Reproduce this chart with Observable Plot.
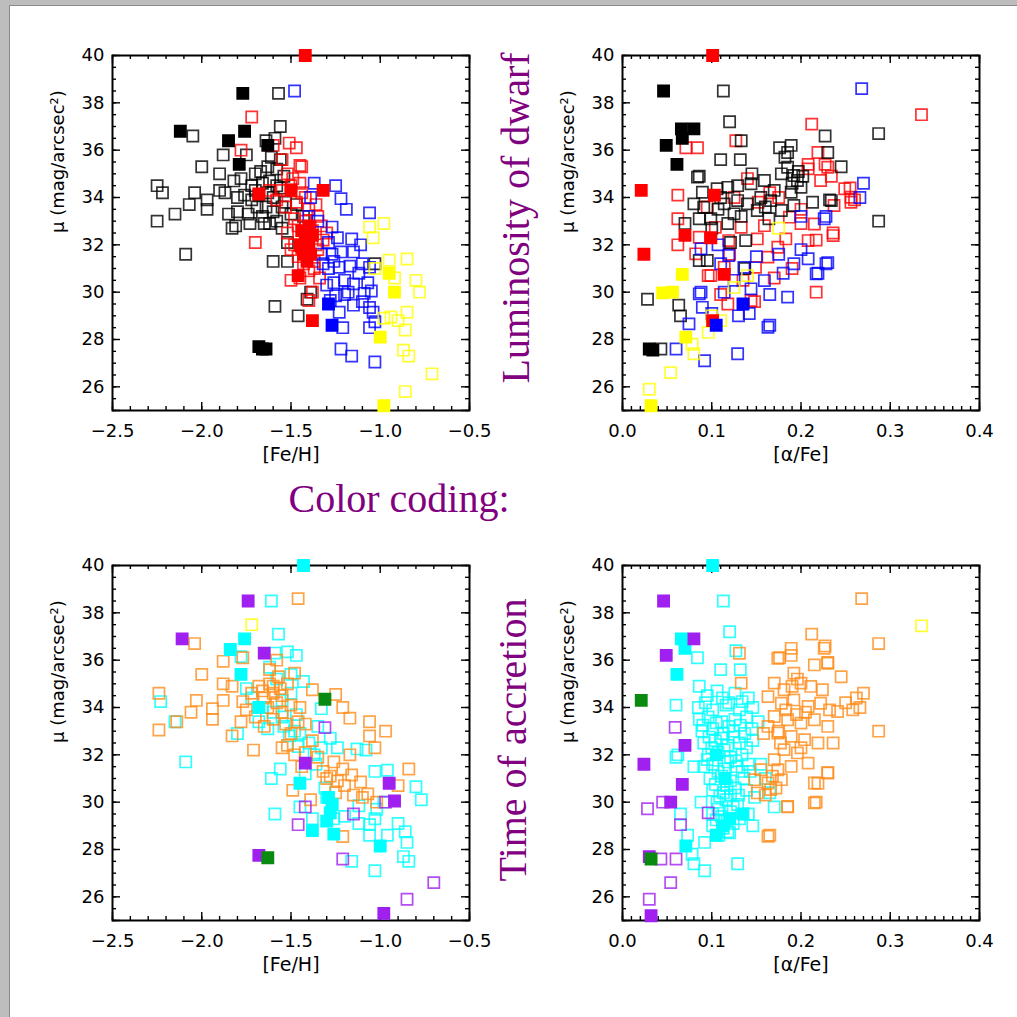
<!DOCTYPE html>
<html><head><meta charset="utf-8">
<script src="https://cdn.jsdelivr.net/npm/d3@7"></script>
<script src="https://cdn.jsdelivr.net/npm/@observablehq/plot@0.6"></script>
<style>
html,body{margin:0;padding:0;background:#fff;}
#page{position:relative;width:1017px;height:1017px;overflow:hidden;background:#fff;}
.panel{position:absolute;}
#overlay{position:absolute;left:0;top:0;}
</style></head><body><div id="page"></div>
<script>
// ---------- Top-left: [Fe/H] vs mu, coloured by luminosity ----------
const tlBlackOpen = [[-2.25,34.5],[-2.25,33.0],[-2.22,34.2],[-2.15,33.3],[-2.07,33.7],[-2.04,34.2],[-2.05,36.6],[-2.0,35.3],[-2.09,31.6],[-1.97,33.5],[-1.97,33.9],[-1.9,35.0],[-1.9,34.3],[-1.88,35.8],[-1.87,34.2],[-1.83,32.7],[-1.81,32.8],[-1.8,33.4],[-1.8,34.0],[-1.78,34.8],[-1.76,34.1],[-1.75,35.8],[-1.74,33.3],[-1.73,32.9],[-1.72,34.5],[-1.7,35.0],[-1.69,33.6],[-1.68,34.1],[-1.66,34.6],[-1.66,33.2],[-1.65,32.9],[-1.64,33.6],[-1.63,35.3],[-1.62,34.7],[-1.61,35.7],[-1.6,34.0],[-1.6,33.4],[-1.59,36.5],[-1.58,35.2],[-1.57,38.4],[-1.56,37.0],[-1.56,35.6],[-1.56,34.4],[-1.55,33.6],[-1.55,32.7],[-1.53,33.8],[-1.52,32.1],[-1.52,31.3],[-1.6,31.3],[-1.5,33.3],[-1.62,32.9],[-1.41,29.7],[-1.39,30.0],[-1.59,29.4],[-1.46,29.0],[-1.72,33.9],[-1.85,33.3],[-1.82,34.7],[-1.67,35.1],[-1.64,36.4],[-1.58,33.0],[-1.54,34.9],[-1.7,34.3],[-1.63,34.2],[-1.58,34.5],[-1.03,31.2],[-1.43,33.2],[-1.47,33.7]];
const tlBlackFilled = [[-2.12,36.8],[-1.85,36.4],[-1.76,36.8],[-1.77,38.4],[-1.79,35.4],[-1.63,36.2],[-1.68,27.7],[-1.66,27.6],[-1.64,27.6]];
const tlRedOpen = [[-1.72,37.4],[-1.78,36.0],[-1.51,36.3],[-1.47,36.1],[-1.45,35.35],[-1.55,35.6],[-1.49,34.8],[-1.45,34.6],[-1.42,34.0],[-1.47,33.8],[-1.4,33.5],[-1.36,33.7],[-1.35,33.2],[-1.33,32.8],[-1.32,32.2],[-1.35,31.8],[-1.37,31.3],[-1.4,30.9],[-1.45,30.6],[-1.5,31.8],[-1.52,32.5],[-1.48,33.1],[-1.55,34.3],[-1.58,33.9],[-1.62,34.3],[-1.52,35.0],[-1.44,35.3],[-1.3,32.5],[-1.34,30.6],[-1.38,30.0],[-1.4,29.65],[-1.5,30.5],[-1.7,32.1],[-1.42,33.0],[-1.37,31.0],[-1.43,31.2],[-1.46,32.8],[-1.48,32.0],[-1.5,34.5],[-1.44,34.2],[-1.38,32.6],[-1.36,32.0],[-1.46,31.5],[-1.53,33.6],[-1.6,36.2]];
const tlRedFilled = [[-1.42,40.0],[-1.32,34.3],[-1.46,30.7],[-1.38,28.8],[-1.68,34.15],[-1.5,34.3],[-1.44,32.6],[-1.42,32.2],[-1.4,31.9],[-1.43,31.6],[-1.38,32.4],[-1.41,31.3],[-1.45,32.0],[-1.39,31.6],[-1.4,32.8],[-1.44,31.9]];
const tlBlueOpen = [[-1.48,38.5],[-1.37,34.6],[-1.25,34.5],[-1.22,33.95],[-1.19,33.5],[-1.06,33.35],[-1.39,34.0],[-1.4,33.2],[-1.27,32.75],[-1.11,32.0],[-1.16,32.25],[-1.29,32.1],[-1.22,31.7],[-1.26,31.3],[-1.29,31.0],[-1.23,31.05],[-1.17,31.1],[-1.1,31.2],[-1.06,31.05],[-1.26,30.4],[-1.2,30.5],[-1.15,30.35],[-1.07,30.4],[-1.05,30.05],[-1.09,29.95],[-1.15,29.45],[-1.06,29.35],[-1.04,29.15],[-1.23,29.15],[-1.28,29.65],[-1.25,29.85],[-1.03,28.75],[-1.06,28.5],[-1.21,28.5],[-1.22,27.6],[-1.16,27.3],[-1.03,27.05],[-1.32,31.2],[-1.3,30.3],[-1.2,29.9],[-1.12,30.8],[-1.15,31.7],[-1.24,32.3],[-1.33,31.6],[-1.18,30.0],[-1.1,29.6],[-1.27,31.6],[-1.35,33.0]];
const tlBlueFilled = [[-1.27,28.6],[-1.29,29.5]];
const tlYellowOpen = [[-1.06,32.75],[-0.98,32.9],[-1.04,32.3],[-0.95,31.35],[-0.85,31.4],[-0.8,30.5],[-0.78,30.0],[-0.85,29.15],[-0.9,28.8],[-0.94,28.95],[-0.86,28.4],[-0.87,27.55],[-0.84,27.3],[-0.71,26.55],[-0.86,25.8],[-0.98,28.9],[-1.03,31.0],[-0.92,30.6]];
const tlYellowFilled = [[-0.95,30.8],[-0.92,30.0],[-1.0,28.1],[-0.98,25.2]];

// ---------- Top-right: [alpha/Fe] vs mu, coloured by luminosity ----------
const trBlackOpen = [[0.113,38.5],[0.12,37.2],[0.133,36.4],[0.11,35.6],[0.132,35.6],[0.086,34.9],[0.028,29.7],[0.063,29.45],[0.065,29.0],[0.043,27.6],[0.287,36.7],[0.287,33.0],[0.227,36.6],[0.23,35.9],[0.245,35.3],[0.232,33.9],[0.189,36.2],[0.176,36.1],[0.185,35.9],[0.182,35.7],[0.084,34.86],[0.0895,34.22],[0.106,34.37],[0.118,34.43],[0.129,34.5],[0.144,34.58],[0.159,34.72],[0.178,35.0],[0.185,35.28],[0.192,34.93],[0.196,34.72],[0.2,34.43],[0.189,34.22],[0.213,33.8],[0.234,33.87],[0.08,33.73],[0.091,33.59],[0.086,33.1],[0.099,33.1],[0.114,33.73],[0.129,33.87],[0.125,33.31],[0.14,33.73],[0.151,33.45],[0.166,33.87],[0.164,33.1],[0.178,33.45],[0.192,33.66],[0.138,32.18],[0.095,31.34],[0.086,31.34],[0.121,32.1],[0.107,33.5],[0.118,32.9],[0.133,33.2],[0.155,34.0],[0.17,34.3],[0.145,35.0],[0.1,32.7],[0.19,34.6],[0.202,34.9],[0.16,33.6],[0.07,32.9],[0.11,34.0],[0.197,35.1],[0.137,31.0]];
const trBlackFilled = [[0.046,38.5],[0.066,36.9],[0.08,36.9],[0.049,36.2],[0.067,36.5],[0.061,35.4],[0.03,27.6],[0.034,27.55]];
const trRedOpen = [[0.335,37.5],[0.212,37.1],[0.127,36.4],[0.071,36.1],[0.084,36.1],[0.217,30.0],[0.236,32.5],[0.255,34.4],[0.256,33.8],[0.219,35.9],[0.208,35.4],[0.227,35.4],[0.234,34.9],[0.062,34.1],[0.062,33.1],[0.062,32.0],[0.096,30.7],[0.148,29.6],[0.217,32.2],[0.086,32.32],[0.104,32.74],[0.119,32.18],[0.133,32.74],[0.151,32.25],[0.159,32.81],[0.183,32.25],[0.208,32.18],[0.215,32.88],[0.236,32.39],[0.23,35.28],[0.249,34.37],[0.256,34.01],[0.237,33.66],[0.208,35.21],[0.222,34.72],[0.187,33.17],[0.174,31.9],[0.082,31.62],[0.099,30.7],[0.114,31.05],[0.149,31.05],[0.163,31.48],[0.144,29.65],[0.118,29.5],[0.14,34.8],[0.165,34.2],[0.095,33.6],[0.125,34.0],[0.152,33.8],[0.175,34.0],[0.2,33.5],[0.12,31.6],[0.135,30.5],[0.19,31.0],[0.17,30.6],[0.11,29.9],[0.26,33.9],[0.2,32.9]];
const trRedFilled = [[0.101,40.0],[0.021,34.3],[0.024,31.6],[0.07,32.4],[0.103,34.1],[0.099,32.3],[0.114,30.75],[0.101,28.8]];
const trBlueOpen = [[0.268,38.6],[0.27,34.6],[0.266,34.0],[0.228,33.2],[0.23,31.25],[0.219,30.8],[0.092,27.1],[0.129,27.4],[0.165,28.6],[0.06,27.6],[0.088,30.0],[0.086,29.93],[0.0895,29.36],[0.0745,28.66],[0.163,28.52],[0.185,29.79],[0.228,31.2],[0.217,30.78],[0.208,31.41],[0.192,31.2],[0.226,33.1],[0.11,31.2],[0.088,31.83],[0.119,31.55],[0.136,31.05],[0.159,30.49],[0.144,30.14],[0.114,30.0],[0.13,29.0],[0.142,29.1],[0.165,29.9],[0.175,31.6],[0.2,33.2],[0.125,30.5],[0.1,29.1],[0.15,31.5],[0.18,30.8],[0.107,32.0],[0.2,31.8]];
const trBlueFilled = [[0.135,29.5],[0.105,28.6]];
const trYellowOpen = [[0.08,27.4],[0.078,27.8],[0.054,26.6],[0.03,25.9],[0.096,28.3],[0.11,28.8],[0.14,30.7],[0.175,32.7],[0.125,30.2],[0.1,29.0]];
const trYellowFilled = [[0.067,30.75],[0.045,29.97],[0.056,30.0],[0.071,28.1],[0.032,25.2]];

// ---------- Bottom-left: [Fe/H] vs mu, coloured by time of accretion ----------
const blOrangeOpen = [[-2.24,34.6],[-2.24,33.05],[-2.14,33.4],[-2.06,33.8],[-2.04,36.7],[-2.0,35.4],[-2.03,34.3],[-1.94,33.95],[-1.94,33.5],[-1.88,35.0],[-1.88,35.95],[-1.88,34.3],[-1.83,32.8],[-1.83,34.9],[-1.77,36.1],[-1.77,34.25],[-1.71,32.2],[-1.46,38.6],[-1.48,35.45],[-1.38,34.75],[-1.25,34.55],[-1.21,34.0],[-1.17,33.55],[-1.06,33.4],[-1.06,32.8],[-0.97,33.0],[-1.03,32.3],[-0.84,31.4],[-0.9,30.7],[-1.21,28.55],[-1.49,30.5],[-1.39,30.1],[-1.26,31.7],[-1.21,31.4],[-1.16,31.15],[-1.11,30.85],[-1.07,30.35],[-1.15,30.3],[-1.28,31.1],[-1.17,32.0],[-1.72,34.6],[-1.68,34.9],[-1.65,34.4],[-1.62,35.0],[-1.6,34.6],[-1.58,34.2],[-1.56,34.8],[-1.55,33.8],[-1.53,33.3],[-1.5,32.9],[-1.52,32.4],[-1.48,32.0],[-1.6,33.5],[-1.65,33.2],[-1.7,33.6],[-1.75,33.9],[-1.62,35.6],[-1.57,35.3],[-1.52,35.0],[-1.45,34.0],[-1.42,33.3],[-1.38,32.6],[-1.35,31.9],[-1.32,31.3],[-1.3,31.0],[-1.24,30.9],[-1.2,30.7],[-1.1,30.2],[-1.02,30.0],[-1.78,33.4],[-1.58,36.0],[-1.63,34.0],[-1.46,33.4],[-1.42,32.1],[-1.25,30.4],[-1.55,32.3],[-1.44,31.5],[-1.6,34.9],[-1.55,34.5],[-1.66,34.7],[-1.5,34.1]];
const blCyanOpen = [[-2.23,34.25],[-2.15,33.4],[-2.09,31.7],[-1.61,38.5],[-1.57,37.1],[-1.47,36.2],[-1.52,36.35],[-1.78,36.15],[-1.8,32.9],[-1.61,31.0],[-1.56,31.4],[-1.59,29.5],[-1.12,29.85],[-1.06,29.05],[-1.03,29.3],[-1.06,28.6],[-0.96,28.6],[-0.9,29.1],[-0.86,28.75],[-0.85,28.3],[-0.87,27.7],[-0.84,27.5],[-1.16,27.5],[-1.03,27.1],[-0.77,30.1],[-0.8,30.65],[-0.96,31.35],[-1.03,31.3],[-1.08,32.2],[-1.13,32.25],[-1.28,32.7],[-1.33,32.3],[-1.37,32.0],[-1.24,32.3],[-1.33,33.95],[-1.43,35.1],[-1.51,32.8],[-1.46,32.35],[-1.31,30.6],[-1.26,29.3],[-1.66,34.0],[-1.6,33.8],[-1.55,34.3],[-1.5,34.6],[-1.47,33.7],[-1.54,33.2],[-1.58,35.2],[-1.62,35.7],[-1.5,35.4],[-1.45,32.9],[-1.4,32.5],[-1.36,31.6],[-1.42,31.2],[-1.3,30.2],[-1.27,29.9],[-1.68,33.4],[-1.72,34.4],[-1.59,36.3],[-1.55,33.6],[-1.48,33.0],[-1.35,33.2],[-1.2,29.4],[-1.02,29.7],[-1.12,29.1],[-0.98,30.0],[-1.45,29.8],[-1.38,29.3],[-1.63,33.1],[-1.75,34.8]];
const blCyanFilled = [[-1.43,40.0],[-1.84,36.45],[-1.76,36.9],[-1.78,35.4],[-1.68,34.0],[-1.45,30.8],[-1.38,28.8],[-1.26,28.65],[-1.28,29.55],[-1.27,29.9],[-1.0,28.15],[-1.29,30.2],[-1.3,29.2]];
const blPurpleOpen = [[-1.42,29.8],[-1.46,29.05],[-1.21,27.6],[-0.7,26.6],[-0.85,25.9],[-1.15,29.5],[-1.31,33.15],[-0.97,30.0]];
const blPurpleFilled = [[-1.74,38.5],[-2.11,36.9],[-1.65,36.3],[-1.68,27.75],[-0.95,30.8],[-0.92,30.05],[-0.98,25.3],[-1.42,31.65]];
const blGreenFilled = [[-1.31,34.35],[-1.63,27.65]];
const blYellowOpen = [[-1.72,37.5]];

// ---------- Bottom-right: [alpha/Fe] vs mu, coloured by time of accretion ----------
const brCyanOpen = [[0.113,38.5],[0.12,37.2],[0.127,36.4],[0.11,35.6],[0.132,35.6],[0.084,36.1],[0.086,34.9],[0.06,34.1],[0.062,32.0],[0.073,28.6],[0.08,27.4],[0.078,27.8],[0.092,27.1],[0.129,27.4],[0.088,30.0],[0.092,28.3],[0.08,31.5],[0.065,29.5],[0.06,31.9],
 [0.095,34.5],[0.112,34.4],[0.126,34.6],[0.141,34.4],[0.085,34.0],[0.101,33.9],[0.116,34.1],[0.131,33.9],[0.146,34.0],[0.086,33.5],[0.096,33.6],[0.111,33.4],[0.126,33.5],[0.139,33.6],[0.152,33.4],[0.089,33.0],[0.101,33.1],[0.113,32.9],[0.124,33.0],[0.137,32.9],[0.091,32.5],[0.104,32.6],[0.118,32.4],[0.131,32.5],[0.146,32.6],[0.096,32.0],[0.107,32.1],[0.121,31.9],[0.134,32.0],[0.091,31.5],[0.101,31.6],[0.114,31.4],[0.128,31.5],[0.141,31.6],[0.098,31.0],[0.111,31.1],[0.121,30.9],[0.136,31.0],[0.101,30.5],[0.113,30.4],[0.126,30.6],[0.139,30.5],[0.106,30.0],[0.116,30.1],[0.129,29.9],[0.101,29.5],[0.111,29.4],[0.121,29.6],[0.141,29.5],[0.101,29.0],[0.113,28.9],[0.124,29.1],[0.146,29.0],[0.108,28.6],[0.12,28.7],[0.16,31.0],[0.165,30.4],[0.17,29.8],[0.155,31.6],[0.148,30.2],
 [0.093,34.2],[0.106,34.7],[0.119,34.2],[0.134,34.25],[0.09,33.25],[0.105,33.35],[0.119,33.2],[0.132,33.25],[0.145,33.1],[0.097,32.75],[0.111,32.7],[0.125,32.75],[0.139,32.3],[0.1,32.3],[0.114,32.2],[0.127,31.75],[0.095,31.8],[0.107,31.3],[0.118,31.7],[0.134,31.3],[0.104,30.75],[0.117,30.7],[0.13,30.3],[0.109,30.25],[0.121,30.3],[0.107,29.7],[0.124,29.8],[0.115,29.2],[0.131,29.3],[0.118,28.75],[0.105,29.25],[0.143,31.3]];
const brCyanFilled = [[0.101,40.0],[0.066,36.9],[0.07,36.5],[0.061,35.4],[0.071,28.15],[0.135,29.5],[0.105,28.6],[0.112,29.0],[0.12,29.3],[0.115,31.0],[0.105,32.0]];
const brOrangeOpen = [[0.268,38.6],[0.287,36.7],[0.287,33.0],[0.212,37.1],[0.227,36.6],[0.189,36.2],[0.176,36.1],[0.23,35.9],[0.245,35.3],[0.27,34.6],[0.266,34.0],[0.232,33.9],[0.236,32.5],[0.23,31.25],[0.219,30.8],[0.217,30.0],[0.165,28.6],[0.185,29.8],[0.189,36.5],[0.226,36.5],[0.174,36.08],[0.215,35.8],[0.23,35.87],[0.192,35.45],[0.17,35.03],[0.181,34.75],[0.2,35.03],[0.211,34.89],[0.224,34.75],[0.163,34.46],[0.178,34.18],[0.192,34.32],[0.208,34.04],[0.222,34.18],[0.241,33.83],[0.17,33.62],[0.185,33.48],[0.2,33.34],[0.215,33.48],[0.23,33.2],[0.163,33.2],[0.174,32.92],[0.189,32.78],[0.204,32.64],[0.219,32.5],[0.181,32.22],[0.196,32.08],[0.17,31.79],[0.155,31.37],[0.174,31.37],[0.189,31.51],[0.208,31.65],[0.23,31.23],[0.148,30.95],[0.163,30.81],[0.178,30.95],[0.215,30.81],[0.151,30.39],[0.166,30.53],[0.215,29.97],[0.185,29.82],[0.163,28.56],[0.133,35.03],[0.131,36.29],[0.25,34.2],[0.258,33.9],[0.262,34.4],[0.196,35.2],[0.205,33.8],[0.175,33.0],[0.2,32.3],[0.158,32.9],[0.183,33.9],[0.195,33.7],[0.177,32.5],[0.19,34.9],[0.168,31.1],[0.16,30.3],[0.172,30.6]];
const brPurpleOpen = [[0.028,29.72],[0.045,30.0],[0.065,29.05],[0.043,27.6],[0.06,27.6],[0.054,26.6],[0.03,25.9],[0.059,33.16],[0.096,29.55]];
const brPurpleFilled = [[0.046,38.5],[0.08,36.9],[0.049,36.2],[0.024,31.6],[0.07,32.4],[0.067,30.75],[0.054,30.0],[0.032,25.2],[0.03,27.7]];
const brGreenFilled = [[0.021,34.3],[0.032,27.6]];
const brYellowOpen = [[0.335,37.45]];

// ---------- axes ----------
const fehTicks = [-2.5, -2.0, -1.5, -1.0, -0.5];
const afeTicks = [0.0, 0.1, 0.2, 0.3, 0.4];
const muTicks = [26, 28, 30, 32, 34, 36, 38, 40];
const fehLabel = "[Fe/H]";
const afeLabel = "[\u03b1/Fe]";
const muLabel = "\u03bc (mag/arcsec\u00b2)";
const titles = {lum: "Luminosity of dwarf", coding: "Color coding:", time: "Time of accretion"};

const C = {black:"#000000", red:"#ff0000", blue:"#0000ff", yellow:"#ffff00",
  orange:"#ff8c1a", cyan:"#00ffff", purple:"#a020f0", green:"#0a8a10"};

const W = 490, H = 470, mL = 112, mR = 21, mT = 55, mB = 60;
const frameW = W - mL - mR, frameH = H - mT - mB;

function minorTicks(lo, hi, step) {
  const n = Math.round((hi - lo) / step);
  return d3.range(n + 1).map(i => +(lo + i * step).toFixed(6));
}

function makePanel(cfg) {
  const marks = [];
  const xMin = minorTicks(cfg.domain[0], cfg.domain[1], cfg.minorStep);
  const yMin = minorTicks(25, 40, 0.5);
  const yMaj = [25, ...muTicks];
  const LM = 8, Lm = 4, sw = 1.4;
  for (const [vals, len] of [[cfg.ticks, LM], [xMin, Lm]]) {
    marks.push(Plot.tickX(vals, {x: d => d, insetTop: frameH - len, stroke: "#000", strokeWidth: sw}));
    marks.push(Plot.tickX(vals, {x: d => d, insetBottom: frameH - len, stroke: "#000", strokeWidth: sw}));
  }
  for (const [vals, len] of [[yMaj, LM], [yMin, Lm]]) {
    marks.push(Plot.tickY(vals, {y: d => d, insetRight: frameW - len, stroke: "#000", strokeWidth: sw}));
    marks.push(Plot.tickY(vals, {y: d => d, insetLeft: frameW - len, stroke: "#000", strokeWidth: sw}));
  }
  marks.push(Plot.frame({stroke: "#000", strokeWidth: 2}));
  for (const g of cfg.groups) {
    marks.push(Plot.dot(g.data, {x: d => d[0], y: d => d[1], symbol: "square", r: 6.3,
      stroke: g.color, strokeWidth: 1.7, strokeOpacity: g.filled ? 1 : 0.8,
      fill: g.filled ? g.color : "none"}));
  }
  marks.push(Plot.axisX({ticks: cfg.ticks, tickSize: 0, tickPadding: 14, tickFormat: d3.format(".1f"), label: null}));
  marks.push(Plot.axisY({ticks: muTicks, tickSize: 0, tickPadding: 8, tickFormat: d3.format("d"), label: null}));
  marks.push(Plot.text([cfg.label], {frameAnchor: "bottom", dy: 44, text: d => d, fontSize: 19, lineAnchor: "middle"}));
  marks.push(Plot.text([muLabel], {frameAnchor: "left", dx: -54, text: d => d, fontSize: 18, rotate: -90, lineAnchor: "middle"}));
  const svg = Plot.plot({
    width: W, height: H, marginLeft: mL, marginRight: mR, marginTop: mT, marginBottom: mB,
    x: {domain: cfg.domain}, y: {domain: [25, 40]},
    style: {fontFamily: "DejaVu Sans", fontSize: "18px", color: "#000", background: "transparent", overflow: "visible"},
    marks
  });
  svg.classList.add("panel");
  svg.style.left = cfg.left + "px";
  svg.style.top = cfg.top + "px";
  return svg;
}

const page = document.getElementById("page");
const panels = [
  {left: 0, top: 0, domain: [-2.5, -0.5], ticks: fehTicks, minorStep: 0.1, label: fehLabel, groups: [
    {data: tlBlackOpen, color: C.black}, {data: tlRedOpen, color: C.red}, {data: tlBlueOpen, color: C.blue}, {data: tlYellowOpen, color: C.yellow},
    {data: tlBlackFilled, color: C.black, filled: true}, {data: tlRedFilled, color: C.red, filled: true}, {data: tlBlueFilled, color: C.blue, filled: true}, {data: tlYellowFilled, color: C.yellow, filled: true}]},
  {left: 510, top: 0, domain: [0, 0.4], ticks: afeTicks, minorStep: 0.01, label: afeLabel, groups: [
    {data: trRedOpen, color: C.red}, {data: trBlackOpen, color: C.black}, {data: trBlueOpen, color: C.blue}, {data: trYellowOpen, color: C.yellow},
    {data: trBlackFilled, color: C.black, filled: true}, {data: trRedFilled, color: C.red, filled: true}, {data: trBlueFilled, color: C.blue, filled: true}, {data: trYellowFilled, color: C.yellow, filled: true}]},
  {left: 0, top: 510, domain: [-2.5, -0.5], ticks: fehTicks, minorStep: 0.1, label: fehLabel, groups: [
    {data: blCyanOpen, color: C.cyan}, {data: blOrangeOpen, color: C.orange}, {data: blPurpleOpen, color: C.purple}, {data: blYellowOpen, color: C.yellow},
    {data: blCyanFilled, color: C.cyan, filled: true}, {data: blPurpleFilled, color: C.purple, filled: true}, {data: blGreenFilled, color: C.green, filled: true}]},
  {left: 510, top: 510, domain: [0, 0.4], ticks: afeTicks, minorStep: 0.01, label: afeLabel, groups: [
    {data: brCyanOpen, color: C.cyan}, {data: brOrangeOpen, color: C.orange}, {data: brPurpleOpen, color: C.purple}, {data: brYellowOpen, color: C.yellow},
    {data: brCyanFilled, color: C.cyan, filled: true}, {data: brPurpleFilled, color: C.purple, filled: true}, {data: brGreenFilled, color: C.green, filled: true}]}
];
for (const p of panels) page.appendChild(makePanel(p));

// window frame + purple titles
const ns = "http://www.w3.org/2000/svg";
const ov = document.createElementNS(ns, "svg");
ov.setAttribute("id", "overlay"); ov.setAttribute("width", 1017); ov.setAttribute("height", 1017);
function el(tag, attrs, txt) {
  const e = document.createElementNS(ns, tag);
  for (const k in attrs) e.setAttribute(k, attrs[k]);
  if (txt) e.textContent = txt;
  ov.appendChild(e); return e;
}
el("rect", {x: 0, y: 0, width: 1017, height: 5, fill: "#bdbdbd"});
el("rect", {x: 0, y: 0, width: 9, height: 1017, fill: "#bdbdbd"});
el("line", {x1: 9, y1: 5.5, x2: 1017, y2: 5.5, stroke: "#8a8a8a", "stroke-width": 1});
el("line", {x1: 9.5, y1: 5, x2: 9.5, y2: 1017, stroke: "#8a8a8a", "stroke-width": 1});
const tstyle = {fill: "#800080", "font-family": "Liberation Serif, Times New Roman, serif", "font-size": 40, "text-anchor": "middle"};
el("text", {...tstyle, transform: "translate(529,218) rotate(-90)"}, titles.lum);
el("text", {...tstyle, x: 399, y: 512}, titles.coding);
el("text", {...tstyle, transform: "translate(526,740) rotate(-90)"}, titles.time);
page.appendChild(ov);
</script>
</body></html>
